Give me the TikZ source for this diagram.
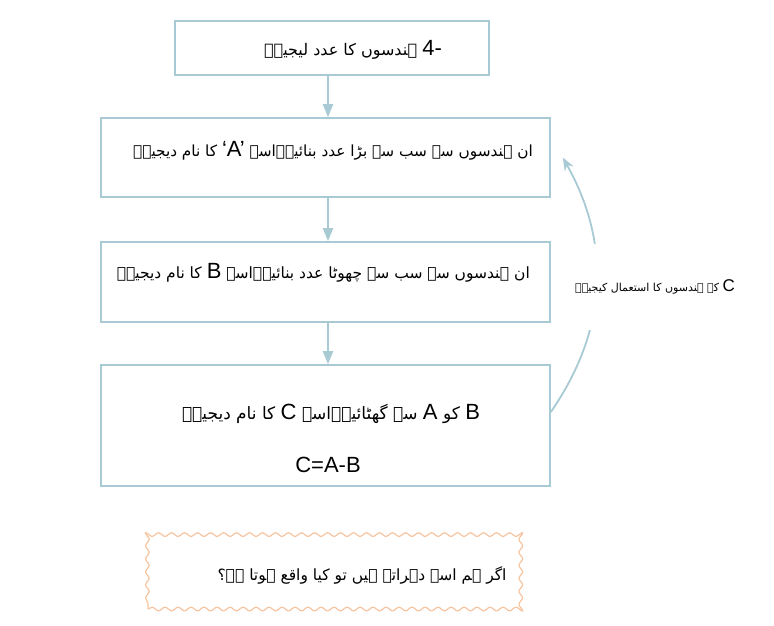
\documentclass[tikz,border=0pt]{standalone}
\usepackage{fontspec}
\setmainfont{Liberation Sans}
\newfontfamily\urfont[Script=Arabic]{DejaVu Sans}
\TeXXeTstate=1
\usetikzlibrary{arrows.meta,decorations.pathmorphing}
\definecolor{boxc}{RGB}{168,202,212}
\definecolor{wavec}{RGB}{247,196,160}
\newcommand\latn[1]{\beginL{\rmfamily\fontsize{22}{26}\selectfont #1}\endL}
\newcommand\latnsm[1]{\beginL{\rmfamily\fontsize{17}{20}\selectfont #1}\endL}
\tikzset{
  stepbox/.style={draw=boxc, line width=1.6pt, inner sep=0pt},
  flow/.style={draw=boxc, line width=2pt, -{Triangle[length=13pt,width=10pt]}},
  loopback/.style={draw=boxc, line width=1.8pt, -{Stealth[length=13pt,width=10pt]}},
  urtext/.style={font=\urfont\fontsize{15.5}{20}\selectfont, inner sep=0pt, text=black},
  wavybox/.style={draw=wavec, line width=1.2pt, decorate,
    decoration={snake, segment length=13pt, amplitude=1.8pt}, inner sep=0pt},
}
\begin{document}
\begin{tikzpicture}[x=1pt,y=-1pt]
\useasboundingbox (0,0) rectangle (774,625);
% boxes
\node[stepbox, minimum width=314pt, minimum height=54pt] (b1) at (332,48) {};
\node[stepbox, minimum width=449pt, minimum height=79pt] (b2) at (325.5,157.5) {};
\node[stepbox, minimum width=449pt, minimum height=80pt] (b3) at (325.5,282) {};
\node[stepbox, minimum width=449pt, minimum height=121pt] (b4) at (325.5,425.5) {};
\node[wavybox, minimum width=372pt, minimum height=80pt] (b5) at (334,569) {};
% texts
\node[urtext, font=\urfont\fontsize{16}{20}\selectfont] (t1) at (353,50) {\beginR\latn{4-} ہندسوں کا عدد لیجیے۔\endR};
\node[urtext, anchor=east, font=\urfont\fontsize{15.3}{20}\selectfont] (t2) at (533,151) {\beginR ان ہندسوں سے سب سے بڑا عدد بنائیے۔اسے \latn{‘A’} کا نام دیجیے۔\endR};
\node[urtext, anchor=east, font=\urfont\fontsize{15.5}{20}\selectfont] (t3) at (530,273) {\beginR ان ہندسوں سے سب سے چھوٹا عدد بنائیے۔اسے \latn{B} کا نام دیجیے۔\endR};
\node[urtext, font=\urfont\fontsize{17}{22}\selectfont] (t4) at (331,414) {\beginR\latn{B} کو \latn{A} سے گھٹائیے۔اسے \latn{C} کا نام دیجیے۔\endR};
\node[inner sep=0pt, font=\fontsize{22}{26}\selectfont] (t4b) at (328,465) {C=A-B};
\node[urtext, font=\urfont\fontsize{15.5}{20}\selectfont] (t5) at (362,575) {\beginR اگر ہم اسے دہراتے ہیں تو کیا واقع ہوتا ہے؟\endR};
% connectors
\coordinate (ax) at (328,0);
\draw[flow] (b1.south -| ax) -- (b2.north -| ax);
\draw[flow] (b2.south -| ax) -- (b3.north -| ax);
\draw[flow] (b3.south -| ax) -- (b4.north -| ax);
\draw[loopback] ([yshift=13.5pt]b4.east) to[bend right=32] ([xshift=12pt]b2.east);
\node[urtext, fill=white, minimum height=86pt, font=\urfont\fontsize{11}{14}\selectfont] (lbl) at (655,287)
  {\beginR\latnsm{C} کے ہندسوں کا استعمال کیجیے۔\endR};
\end{tikzpicture}
\end{document}
